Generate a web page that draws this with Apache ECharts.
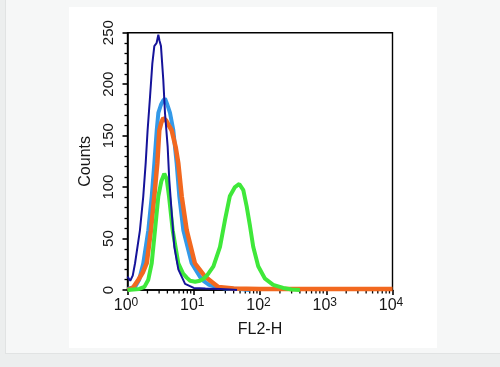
<!DOCTYPE html>
<html>
<head>
<meta charset="utf-8">
<script src="https://cdn.jsdelivr.net/npm/echarts@6/dist/echarts.min.js"></script>
<style>
  html, body { margin: 0; padding: 0; width: 500px; height: 367px; background: #eceeee; overflow: hidden; }
  #frame { position: absolute; left: 5px; top: 0px; width: 494px; height: 353px; background: #f6f7f7; border: 1px solid #e1e3e3; border-top: none; }
  #panel { position: absolute; left: 69px; top: 7px; width: 368px; height: 341px; background: #ffffff; }
  #chart { position: absolute; left: 0; top: 0; width: 500px; height: 367px; }
</style>
</head>
<body>
<div id="frame"></div>
<div id="panel"></div>
<div id="chart"></div>
<script>
// ---- Data (x = FL2-H intensity, y = counts) ----
const navyX  = [1, 1.1, 1.2, 1.3, 1.54, 1.73, 1.88, 2.01, 2.19, 2.37, 2.54, 2.75, 2.92, 3.05, 3.2, 3.47, 3.68, 4.04, 4.27, 4.65, 5.09, 5.85, 7.4, 10, 15, 25, 35, 45];
const navyY  = [13, 9, 14, 26, 58, 91, 123, 155, 188, 220, 237, 240, 248, 242, 237, 204, 172, 139, 107, 75, 42, 20, 6, 2, 1.5, 1, 0.5, 0];

const blueX  = [1, 1.3, 1.5, 1.73, 2.06, 2.32, 2.54, 2.76, 2.92, 3.2, 3.45, 3.68, 4.0, 4.38, 4.92, 5.52, 6.05, 6.96, 9.3, 13.2, 17, 22, 30, 50, 70];
const blueY  = [1, 3, 10, 26, 58, 91, 123, 155, 172, 180, 184, 186, 180, 172, 155, 123, 91, 58, 26, 10, 5, 3, 1.5, 1, 0];

const orangeX = [1, 1.2, 1.46, 1.7, 1.95, 2.26, 2.54, 2.82, 3.02, 3.25, 3.47, 3.8, 4.2, 4.65, 5.33, 5.85, 6.58, 7.83, 10.4, 14.8, 18.6, 23.5, 40, 100, 1000, 10000];
const orangeY = [0, 2, 10, 17, 26, 58, 91, 123, 155, 163, 167, 165, 160, 155, 139, 123, 91, 58, 26, 13, 8, 3, 1.5, 1, 1, 1];

const greenX = [1, 1.5, 1.8, 2.06, 2.32, 2.6, 2.92, 3.25, 3.59, 3.9, 4.23, 4.81, 5.85, 6.9, 7.83, 8.8, 10.5, 12.4, 14, 15.8, 19.8, 24.9, 29.6, 35, 41.9, 48.7, 56, 63, 70.7, 79, 94, 119, 158, 224, 300, 400];
const greenY = [0, 1, 3, 10, 26, 58, 91, 106, 113, 108, 91, 58, 26, 16, 12, 9, 8, 9, 11, 14, 23, 42, 68, 91, 100, 103, 97, 81, 62, 42, 23, 11, 5, 2, 0.5, 0];

const xTickValues = [1, 10, 100, 1000, 10000];
const minorMultipliers = [2, 3, 4, 5, 6, 7, 8, 9];
const decades = [1, 10, 100, 1000];
const yTicks = [0, 50, 100, 150, 200, 250];

function pairs(xs, ys) { return xs.map((x, i) => [x, ys[i]]); }
const minorTickVals = [];
decades.forEach(d => minorMultipliers.forEach(m => minorTickVals.push([d * m, 0])));

const chart = echarts.init(document.getElementById('chart'), null, { renderer: 'canvas' });
const font = 'Liberation Sans, Arial, Helvetica, sans-serif';
const txt = '#161616';

chart.setOption({
  backgroundColor: 'transparent',
  animation: false,
  grid: { left: 127.5, top: 32.7, right: 107.5, bottom: 77, show: true, borderColor: '#000', borderWidth: 1.4, backgroundColor: 'transparent' },
  xAxis: {
    type: 'log', logBase: 10, min: 1, max: 10000,
    name: 'FL2-H', nameLocation: 'middle', nameGap: 32,
    nameTextStyle: { fontFamily: font, fontSize: 16, color: txt },
    axisLine: { show: true, lineStyle: { color: '#000', width: 1.6 } },
    axisTick: { show: true, length: 5, lineStyle: { color: '#000', width: 1.6 } },
    splitLine: { show: false },
    axisLabel: {
      margin: 7, color: txt, fontFamily: font,
      formatter: v => '{b|10}{s|' + Math.round(Math.log10(v)) + '}',
      rich: {
        b: { fontSize: 16, fontFamily: font, color: txt, lineHeight: 17, padding: [6, 0, 0, 0], verticalAlign: 'bottom' },
        s: { fontSize: 12, fontFamily: font, color: txt, lineHeight: 12, verticalAlign: 'top', padding: [0, 3, 0, 0] }
      }
    }
  },
  yAxis: {
    type: 'value', min: 0, max: 250, interval: 50,
    name: 'Counts', nameLocation: 'middle', nameGap: 32, nameRotate: 90,
    nameTextStyle: { fontFamily: font, fontSize: 16, color: txt },
    axisLine: { show: true, lineStyle: { color: '#000', width: 1.6 } },
    axisTick: { show: true, length: 5, lineStyle: { color: '#000', width: 1.6 } },
    minorTick: { show: true, splitNumber: 5, length: 3, lineStyle: { color: '#000', width: 1.3 } },
    splitLine: { show: false },
    axisLabel: { rotate: 90, margin: 11, fontSize: 15, fontFamily: font, color: txt,
      formatter: v => yTicks.indexOf(v) >= 0 ? String(v) : '' }
  },
  series: [
    {
      type: 'custom', clip: false, silent: true, z: 1,
      data: minorTickVals,
      renderItem: (params, api) => {
        const p = api.coord([api.value(0), 0]);
        return { type: 'line', shape: { x1: p[0], y1: p[1], x2: p[0], y2: p[1] + 3.5 }, style: { stroke: '#000', lineWidth: 1.3 } };
      }
    },
    { type: 'line', data: pairs(blueX, blueY), showSymbol: false, lineStyle: { color: '#3399e8', width: 4 }, z: 2 },
    { type: 'line', data: pairs(orangeX, orangeY), showSymbol: false, lineStyle: { color: '#f2681f', width: 4.5 }, z: 3 },
    { type: 'line', data: pairs(greenX, greenY), showSymbol: false, lineStyle: { color: '#3fe83a', width: 4 }, z: 4 },
    { type: 'line', data: pairs(navyX, navyY), showSymbol: false, lineStyle: { color: '#15139a', width: 2 }, z: 5 }
  ]
});
</script>
</body>
</html>
